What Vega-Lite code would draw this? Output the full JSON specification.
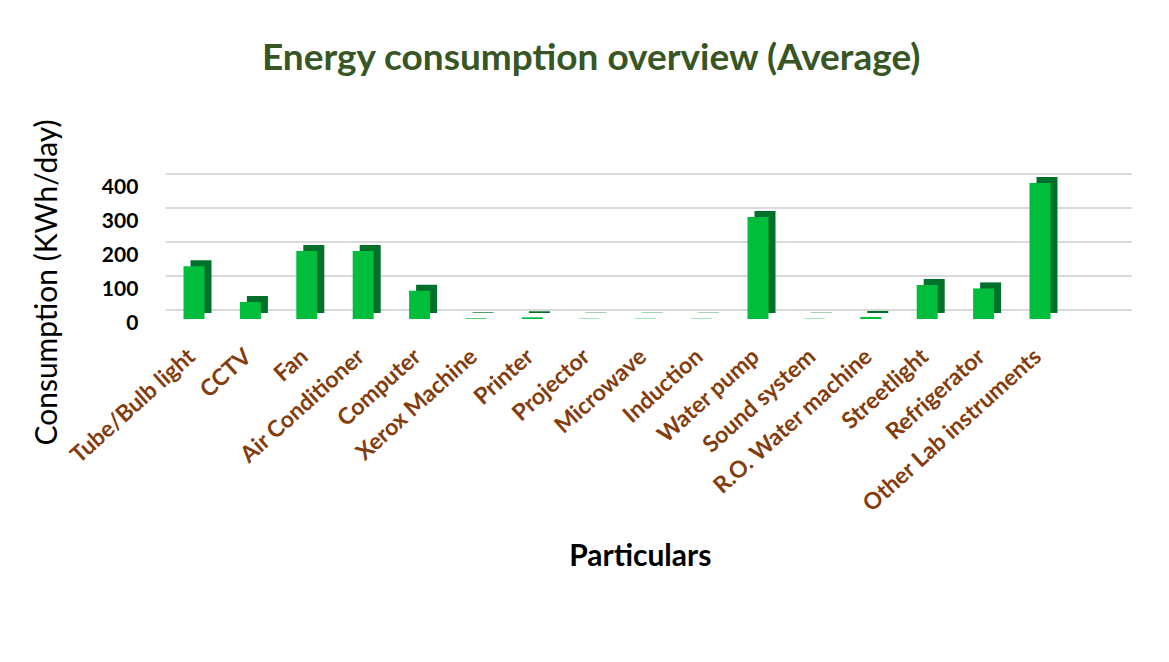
{
  "$schema": "https://vega.github.io/schema/vega-lite/v6.json",
  "width": 958.8,
  "height": 136,
  "autosize": "none",
  "padding": {"left": 165.8, "top": 183, "right": 44, "bottom": 343},
  "background": "white",
  "config": {"view": {"stroke": null}, "axis": {"labelOverlap": false}, "axisY": {"labelOverlap": false, "tickCount": 5}},
  "title": {
    "text": "Energy consumption overview (Average)",
    "font": "Lato",
    "fontSize": 37,
    "fontWeight": "bold",
    "color": "#375623",
    "anchor": "middle",
    "frame": "group",
    "dx": -54,
    "offset": 12,
    "baseline": "alphabetic"
  },
  "datasets": {
    "bars": [
      {"item": "Tube/Bulb light", "kwh": 155},
      {"item": "CCTV", "kwh": 50},
      {"item": "Fan", "kwh": 200},
      {"item": "Air Conditioner", "kwh": 200},
      {"item": "Computer", "kwh": 83},
      {"item": "Xerox Machine", "kwh": 2},
      {"item": "Printer", "kwh": 5},
      {"item": "Projector", "kwh": 1},
      {"item": "Microwave", "kwh": 1},
      {"item": "Induction", "kwh": 1},
      {"item": "Water pump", "kwh": 300},
      {"item": "Sound system", "kwh": 1},
      {"item": "R.O. Water machine", "kwh": 6},
      {"item": "Streetlight", "kwh": 100},
      {"item": "Refrigerator", "kwh": 90},
      {"item": "Other Lab instruments", "kwh": 400}
    ],
    "grid": [{"v": 0}, {"v": 100}, {"v": 200}, {"v": 300}, {"v": 400}]
  },
  "layer": [
    {
      "data": {"name": "bars"},
      "mark": {"type": "bar", "color": "#00BE3C", "size": 21, "opacity": 0},
      "encoding": {
        "x": {"field": "item", "type": "nominal", "sort": null,
              "scale": {"domain": ["Tube/Bulb light","CCTV","Fan","Air Conditioner","Computer","Xerox Machine","Printer","Projector","Microwave","Induction","Water pump","Sound system","R.O. Water machine","Streetlight","Refrigerator","Other Lab instruments"," "], "paddingInner": 0, "paddingOuter": 0},
              "axis": {
                "labelAngle": -42, "labelAlign": "right", "labelBaseline": "middle",
                "labelFont": "Lato", "labelFontSize": 23, "labelFontWeight": "bold", "labelColor": "#843C0C",
                "labelPadding": 34, "labelOffset": -2, "labelLimit": 0, "labelOverlap": false,
                "ticks": false, "domain": false, "grid": false,
                "title": "Particulars", "titleFont": "Lato", "titleFontSize": 30, "titleFontWeight": "bold", "titleColor": "#000000",
                "titleX": 474, "titleY": 238, "titleBaseline": "middle", "titleAlign": "center"
              }},
        "y": {"field": "kwh", "type": "quantitative", "scale": {"domain": [0, 400]},
              "axis": {
                "values": [0, 100, 200, 300, 400],
                "labelFont": "Lato", "labelFontSize": 21, "labelFontWeight": "bold", "labelColor": "#000000",
                "labelPadding": 28, "labelOffset": 4, "labelOverlap": false, "ticks": false, "domain": false, "grid": false,
                "title": "Consumption (KWh/day)", "titleFont": "Lato", "titleFontSize": 30, "titleFontWeight": "normal", "titleColor": "#000000",
                "titleX": -118, "titleY": 99, "titleBaseline": "middle", "titleAlign": "center", "titleAngle": -90
              }}
      }
    },
    {
      "data": {"name": "grid"},
      "mark": {"type": "rule", "color": "#d9d9d9", "strokeWidth": 2, "xOffset": 7, "x2Offset": 7, "yOffset": -9},
      "encoding": {
        "y": {"field": "v", "type": "quantitative"}
      }
    },
    {
      "data": {"name": "bars"},
      "mark": {"type": "bar", "color": "#00702A", "xOffset": 7, "yOffset": -6, "y2Offset": -6, "size": 21},
      "encoding": {
        "x": {"field": "item", "type": "nominal", "sort": null},
        "y": {"field": "kwh", "type": "quantitative"}
      }
    },
    {
      "data": {"name": "bars"},
      "mark": {"type": "bar", "color": "#00BE3C", "size": 21},
      "encoding": {
        "x": {"field": "item", "type": "nominal", "sort": null},
        "y": {"field": "kwh", "type": "quantitative"}
      }
    }
  ]
}
